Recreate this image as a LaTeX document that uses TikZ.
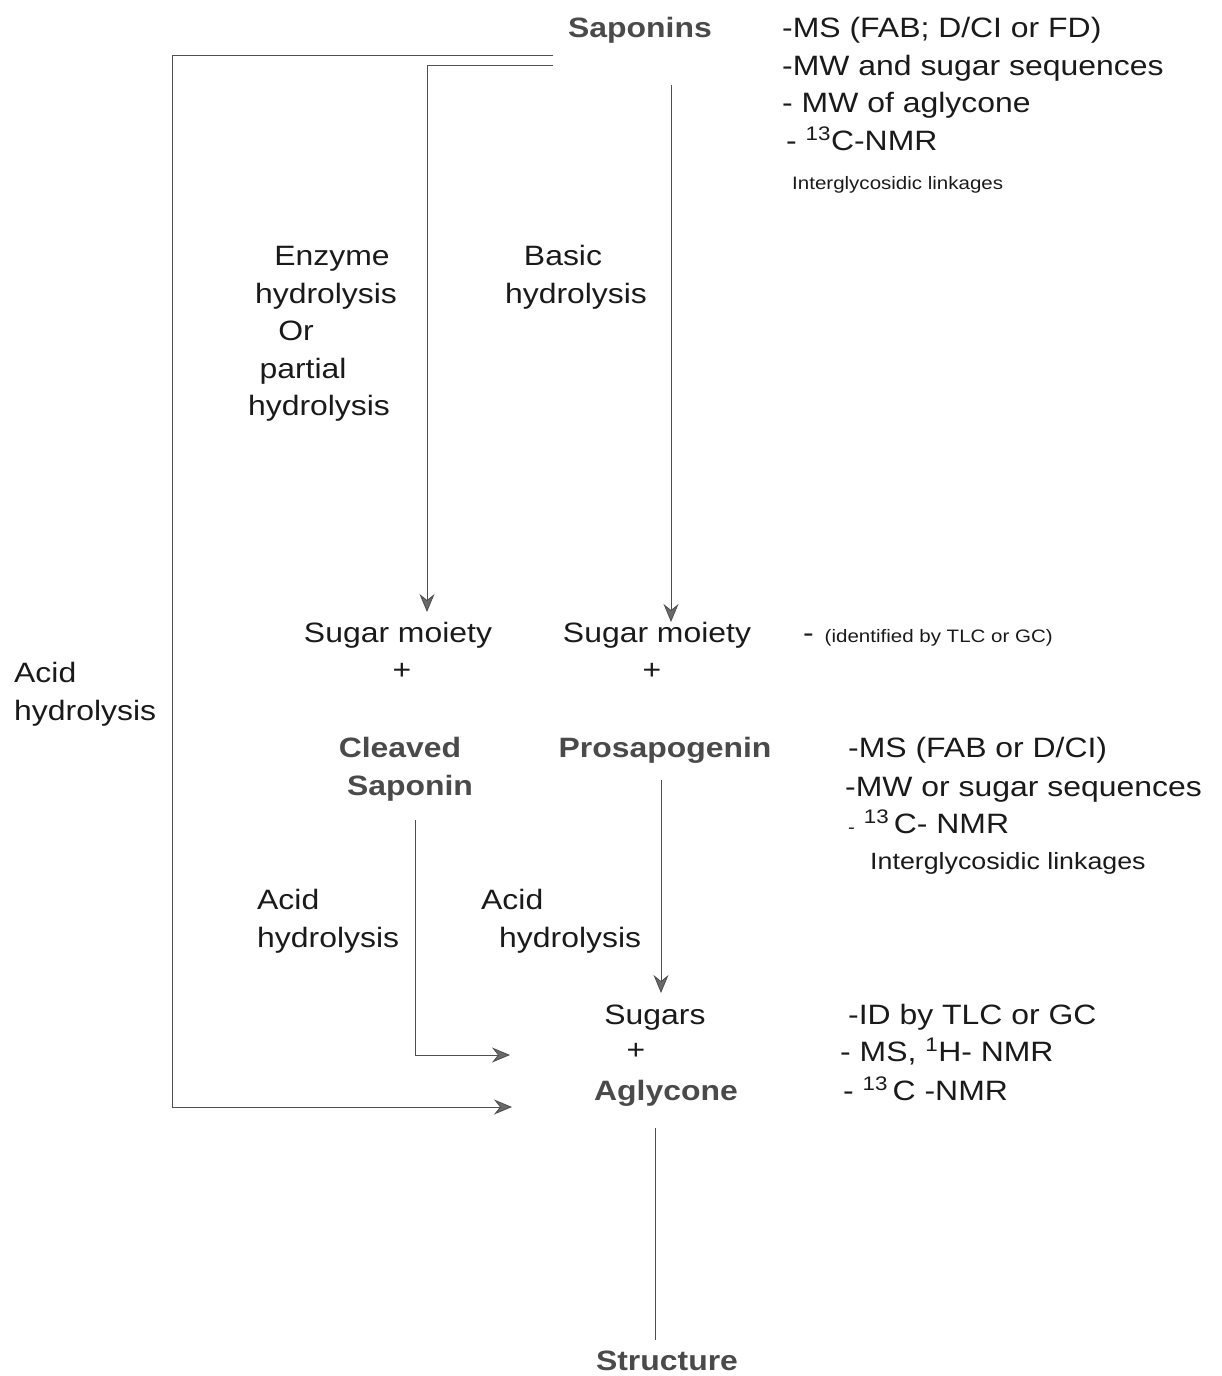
\documentclass[tikz,border=0pt]{standalone}
\usepackage{fontspec}
\setmainfont{Liberation Sans}[FakeStretch=1.14]
\usetikzlibrary{arrows.meta}
\definecolor{txt}{HTML}{1A1A1A}
\definecolor{boldgray}{HTML}{4A4A4A}
\definecolor{linegray}{HTML}{505050}
\definecolor{arrowgray}{HTML}{6A6A6A}
\newcommand\fsA{\fontsize{28}{38}\selectfont}
\newcommand\fsS{\fontsize{18}{22}\selectfont}
\newcommand\fsM{\fontsize{23.5}{28}\selectfont}
\tikzset{
  lbl/.style={inner sep=0pt, font=\fsA, text=txt},
  lblw/.style={lbl, anchor=base west},
  lblc/.style={lbl, anchor=base},
  boldc/.style={inner sep=0pt, anchor=base, font=\fsA\bfseries, text=boldgray},
  link/.style={draw=linegray, line width=0.9pt},
  conn/.style={link, -{Stealth[length=18pt,width=15pt,inset=6pt,fill=arrowgray]}},
}
\begin{document}
\begin{tikzpicture}[x=1pt,y=-1pt]
\useasboundingbox (0,0) rectangle (1221,1376);

% top
\node[boldc] (sap) at (640,37) {Saponins};
\node[lblw] (t1) at (782,37) {-MS (FAB; D/CI or FD)};
\node[lblw] (t2) at (782,75) {-MW and sugar sequences};
\node[lblw] (t3) at (782,112) {- MW of aglycone};
\node[lblw] (t4) at (786,150) {- \textsuperscript{13}C-NMR};
\node[lblw, font=\fsS] (t5) at (792,189) {Interglycosidic linkages};

% hydrolysis labels
\node[lblc] (e1) at (332,265) {Enzyme};
\node[lblc] (e2) at (326,303) {hydrolysis};
\node[lblc] (e3) at (296,340) {Or};
\node[lblc] (e4) at (303,378) {partial};
\node[lblc] (e5) at (319,415) {hydrolysis};
\node[lblc] (b1) at (563,265) {Basic};
\node[lblc] (b2) at (576,303) {hydrolysis};

% sugar moieties
\node[lblc] (sm1) at (398,642) {Sugar moiety};
\node[lblc] (p1) at (402,679) {+};
\node[lblc] (sm2) at (657,642) {Sugar moiety};
\node[lblc] (p2) at (652,679) {+};
\node[lblw] (idf) at (803,642) {- \hspace{2pt}{\fsS (identified by TLC or GC)}};

% acid hydrolysis left
\node[lblw] (a1) at (14,682) {Acid};
\node[lblw] (a2) at (14,720) {hydrolysis};

% cleaved / prosapogenin
\node[boldc] (cl1) at (400,757) {Cleaved};
\node[boldc] (cl2) at (410,795) {Saponin};
\node[boldc] (pro) at (665,757) {Prosapogenin};
\node[lblw] (r1) at (848,757) {-MS (FAB or D/CI)};
\node[lblw] (r2) at (845,796) {-MW or sugar sequences};
\node[lblw] (r3) at (848,833) {{\fsS -} \textsuperscript{13}\,C- NMR};
\node[lblw, font=\fsM] (r4) at (870,869) {Interglycosidic linkages};

% acid hydrolysis middle
\node[lblw] (h1) at (257,909) {Acid};
\node[lblw] (h2) at (257,947) {hydrolysis};
\node[lblw] (h3) at (481,909) {Acid};
\node[lblw] (h4) at (499,947) {hydrolysis};

% sugars + aglycone
\node[lblc] (sug) at (655,1024) {Sugars};
\node[lblc] (p3) at (636,1059) {+};
\node[boldc] (agl) at (666,1100) {Aglycone};
\node[lblw] (s1) at (848,1024) {-ID by TLC or GC};
\node[lblw] (s2) at (840,1061) {- MS, \textsuperscript{1}H- NMR};
\node[lblw] (s3) at (843,1100) {- \textsuperscript{13}\,C -NMR};

\node[boldc] (str) at (667,1370) {Structure};

% connector end points
\coordinate (sa) at (553,55);
\coordinate (sb) at (553,65);
\coordinate (sc) at (671,85);
\coordinate (ka) at (172,55);
\coordinate (kb) at (172,1107);
\coordinate (ta) at (512,1107);
\coordinate (kc) at (427,65);
\coordinate (tb) at (427,612);
\coordinate (tc) at (671,622);
\coordinate (cs) at (415,820);
\coordinate (kd) at (415,1055);
\coordinate (td) at (510,1055);
\coordinate (ps) at (661,780);
\coordinate (te) at (661,993);
\coordinate (as) at (655,1128);
\coordinate (ts) at (655,1340);

% connectors
\draw[conn] (sa) -- (ka) -- (kb) -- (ta);
\draw[conn] (sb) -- (kc) -- (tb);
\draw[conn] (sc) -- (tc);
\draw[conn] (cs) -- (kd) -- (td);
\draw[conn] (ps) -- (te);
\draw[link] (as) -- (ts);
\end{tikzpicture}
\end{document}
